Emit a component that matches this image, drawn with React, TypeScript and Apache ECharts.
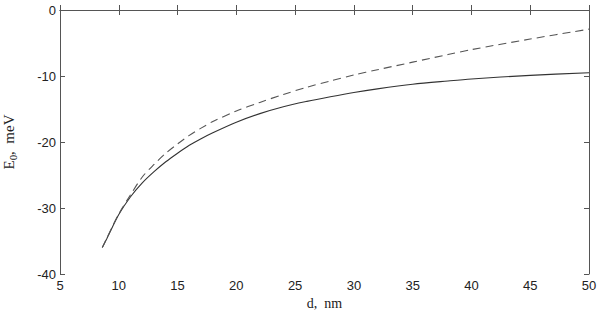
import React, { useEffect, useRef } from "react";
import * as echarts from "echarts";

const xTicks = [5, 10, 15, 20, 25, 30, 35, 40, 45, 50];
const yTicks = [-40, -30, -20, -10, 0];

const solidD = [8.6, 9, 10, 11, 12, 13, 14, 15, 16, 17, 18, 20, 22, 24, 26, 28, 30, 32, 35, 38, 40, 45, 50];
const solidE = [-36.0, -34.6, -31.0, -28.3, -26.2, -24.5, -23.0, -21.7, -20.5, -19.5, -18.6, -17.0, -15.7, -14.65, -13.85, -13.15, -12.5, -11.95, -11.25, -10.75, -10.45, -9.9, -9.5];

const dashedD = [8.6, 9, 10, 11, 12, 13, 14, 15, 16, 17, 18, 20, 22, 24, 26, 28, 30, 32, 35, 38, 40, 45, 50];
const dashedE = [-36.0, -34.5, -30.9, -28.0, -25.3, -23.4, -21.7, -20.3, -19.0, -17.9, -16.9, -15.3, -14.0, -12.8, -11.7, -10.75, -9.85, -9.05, -7.9, -6.75, -6.0, -4.4, -2.9];

const xName = "d,  nm";
const yName = "{a|E}{s|0}{a|,  meV}";

export default function App() {
  const ref = useRef<HTMLDivElement>(null);
  useEffect(() => {
    if (!ref.current) return;
    const chart = echarts.init(ref.current, undefined, { renderer: "svg" });
    const axisLine = { show: true, lineStyle: { color: "#555", width: 1 } };
    const tickStyle = { show: true, inside: true, length: 5, lineStyle: { color: "#555", width: 1 } };
    const labelStyle = { color: "#222", fontSize: 13, fontFamily: "Liberation Sans, Arial, sans-serif" };
    const serif = "Liberation Serif, Times New Roman, serif";
    const xBase = { type: "value", min: xTicks[0], max: xTicks[xTicks.length - 1], interval: 5 };
    const yBase = { type: "value", min: yTicks[0], max: yTicks[yTicks.length - 1], interval: 10 };
    chart.setOption({
      animation: false,
      backgroundColor: "#fff",
      grid: { left: 60, right: 11, top: 10, bottom: 40, containLabel: false, outerBoundsMode: "none" },
      xAxis: [
        {
          ...xBase,
          position: "bottom",
          axisLine,
          axisTick: tickStyle,
          splitLine: { show: false },
          axisLabel: { ...labelStyle, margin: 5 },
          name: xName,
          nameLocation: "middle",
          nameGap: 19,
          nameTextStyle: { color: "#222", fontSize: 14, fontFamily: serif },
        },
        {
          ...xBase,
          position: "top",
          axisLine,
          axisTick: tickStyle,
          splitLine: { show: false },
          axisLabel: { show: false },
        },
      ],
      yAxis: [
        {
          ...yBase,
          position: "left",
          axisLine,
          axisTick: tickStyle,
          splitLine: { show: false },
          axisLabel: { ...labelStyle, margin: 4 },
          name: yName,
          nameLocation: "middle",
          nameGap: 42,
          nameRotate: 90,
          nameTextStyle: {
            color: "#222",
            fontSize: 15,
            fontFamily: serif,
            rich: {
              a: { fontSize: 15, fontFamily: serif, color: "#222", lineHeight: 18 },
              s: { fontSize: 11, fontFamily: serif, color: "#222", lineHeight: 18, padding: [8, 0, 0, 0] },
            },
          },
        },
        {
          ...yBase,
          position: "right",
          axisLine,
          axisTick: tickStyle,
          splitLine: { show: false },
          axisLabel: { show: false },
        },
      ],
      series: [
        {
          type: "line",
          data: solidD.map((d, i) => [d, solidE[i]]),
          smooth: 0.3,
          showSymbol: false,
          lineStyle: { color: "#333", width: 1.1 },
        },
        {
          type: "line",
          data: dashedD.map((d, i) => [d, dashedE[i]]),
          smooth: 0.3,
          showSymbol: false,
          lineStyle: { color: "#555", width: 1.1, type: [8, 5] },
        },
      ],
    });
    return () => chart.dispose();
  }, []);
  return <div ref={ref} style={{ position: "absolute", left: 0, top: 0, width: 600, height: 314 }} />;
}
